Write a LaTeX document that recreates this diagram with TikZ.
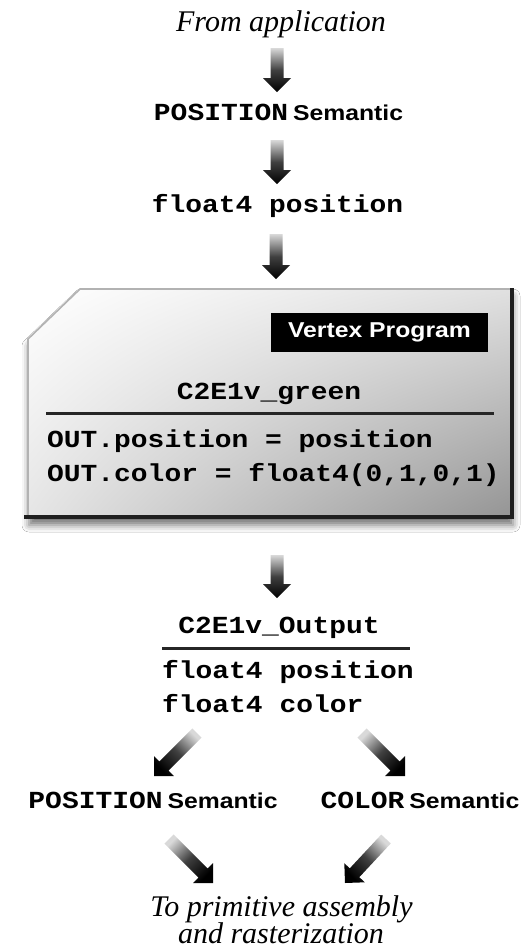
\documentclass[tikz,border=0pt]{standalone}
\usepackage{fontspec}
\setmainfont{Liberation Serif}
\newfontfamily\monofam{Liberation Mono}[FakeStretch=1.14]
\newfontfamily\sansfam{Liberation Sans}[FakeStretch=1.15]
\usetikzlibrary{calc,shadows.blur,shadings}
\newcommand\mfont{\monofam\bfseries\fontsize{24.5pt}{28pt}\selectfont}
\newcommand\sfont{\sansfam\bfseries\fontsize{21.5pt}{26pt}\selectfont}
\newcommand\ifont{\itshape\fontsize{30pt}{32pt}\selectfont}
% #1 tail, #2 tip, #3 shading angle, #4 name of head-base coordinate
\newcommand\garrow[4]{%
  \coordinate (#4) at ($(#2)!14pt!(#1)$);
  \shade[arrowshade, shading angle=#3]
    ($(#1)!6.5pt!90:(#2)$) -- ($(#4)!6.5pt!-90:(#1)$) -- ($(#4)!14pt!-90:(#1)$)
    -- (#2) -- ($(#4)!14pt!90:(#1)$) -- ($(#4)!6.5pt!90:(#1)$)
    -- ($(#1)!6.5pt!-90:(#2)$) -- cycle;}
\begin{document}
\begin{tikzpicture}[x=1pt,y=-1pt,
  txt/.style={inner sep=0pt, anchor=base},
  arrowshade/.style={top color=white!85!black, bottom color=black, middle color=black!75},
  rule/.style={line width=3pt, black!85}]
\useasboundingbox (0,0) rectangle (531,951);
\fill[white] (0,0) rectangle (531,951);

% ---- top chain
\node[txt, font=\ifont] (app) at (281,31) {From application};
\node[txt] (pos1) at (278.5,120) {{\mfont POSITION}\hspace{5pt}{\sfont Semantic}};
\node[txt, font=\mfont] (fpos) at (277.5,212) {float4 position};

\coordinate (a1s) at (277,48);  \coordinate (a1e) at (277,92);
\coordinate (a2s) at (277,140); \coordinate (a2e) at (277,184);
\coordinate (a3s) at (276,234); \coordinate (a3e) at (276,279);
\garrow{a1s}{a1e}{0}{a1m}
\garrow{a2s}{a2e}{0}{a2m}
\garrow{a3s}{a3e}{0}{a3m}

% ---- vertex program box
\path[fill=white, blur shadow={shadow xshift=1pt, shadow yshift=-7pt, shadow blur radius=7pt, shadow opacity=55}]
  (80,289) -- (512,289) -- (512,518) -- (28,518) -- (28,339) -- cycle;
\shade[upper left=white, upper right=white!88!black, lower left=white!90!black, lower right=white!58!black]
  (80,289) -- (512,289) -- (512,518) -- (28,518) -- (28,339) -- cycle;
\draw[black!30, line width=1.6pt] (28,518) -- (28,339) -- (80,289) -- (512,289);
\draw[black!88, line width=4.5pt, line cap=rect] (512,290) -- (512,517) -- (26,517);

\node[fill=black, text=white, font=\sfont, minimum width=217pt, minimum height=39pt, inner sep=0pt]
  (vp) at (379.5,332.5) {Vertex Program};
\node[txt, font=\mfont] (prog) at (269,399) {C2E1v\_green};
\draw[rule] (46,413) -- (494,413);
\node[txt, font=\mfont, anchor=base west] (l1) at (47,447) {OUT.position = position};
\node[txt, font=\mfont, anchor=base west] (l2) at (47,481) {OUT.color = float4(0,1,0,1)};

% ---- output struct
\coordinate (a4s) at (277,555); \coordinate (a4e) at (277,598);
\garrow{a4s}{a4e}{0}{a4m}
\node[txt, font=\mfont] (out) at (279,633) {C2E1v\_Output};
\draw[rule] (162,648) -- (410,648);
\node[txt, font=\mfont, anchor=base west] (o1) at (162,678) {float4 position};
\node[txt, font=\mfont, anchor=base west] (o2) at (162,712) {float4 color};

% ---- split arrows
\coordinate (a5s) at (197,733); \coordinate (a5e) at (154,776);
\coordinate (a6s) at (362,733); \coordinate (a6e) at (405,776);
\garrow{a5s}{a5e}{-45}{a5m}
\garrow{a6s}{a6e}{45}{a6m}

\node[txt] (ps) at (153,808) {{\mfont POSITION}\hspace{5pt}{\sfont Semantic}};
\node[txt] (cs) at (420,808) {{\mfont COLOR}\hspace{5pt}{\sfont Semantic}};

\coordinate (a7s) at (169,839); \coordinate (a7e) at (213,883);
\coordinate (a8s) at (386,839); \coordinate (a8e) at (345,883);
\garrow{a7s}{a7e}{45}{a7m}
\garrow{a8s}{a8e}{-45}{a8m}

\node[txt, font=\ifont] (to1) at (281.5,916) {To primitive assembly};
\node[txt, font=\ifont] (to2) at (281,943) {and rasterization};
\end{tikzpicture}
\end{document}
